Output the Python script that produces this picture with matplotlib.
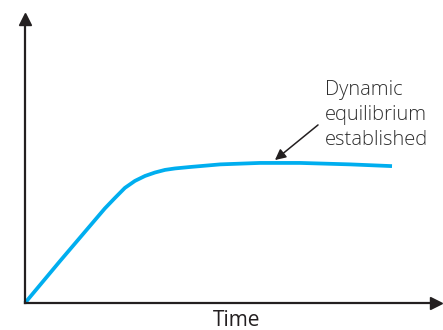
import matplotlib
matplotlib.use("Agg")
import matplotlib.pyplot as plt

# curve (arbitrary units)
time = [0, 0.84, 1.91, 2.15, 2.39, 2.63, 2.87, 3.11, 3.35, 3.59, 3.95, 4.67, 5.62, 6.58, 7.78, 8.78]
value = [0, 0.145, 0.326, 0.362, 0.397, 0.421, 0.438, 0.450, 0.459, 0.464, 0.469, 0.478, 0.483, 0.483, 0.478, 0.472]

label_text = "Dynamic\nequilibrium\nestablished"
arrow_tip = (5.98, 0.493)
arrow_tail = (7.01, 0.614)
text_pos = (7.18, 0.77)

plt.rcParams['font.family'] = ['Open Sans', 'DejaVu Sans']

fig = plt.figure(figsize=(4.43, 3.30), dpi=100)
W, H = 443, 330
ax = fig.add_axes([25 / W, 27 / H, 411 / W, 284 / H])
ax.set_xlim(0, 411 / 41.8)
ax.set_ylim(0, 284 / 290)

ax.plot(time, value, color='#00aeef', lw=2.7, solid_capstyle='butt',
        solid_joinstyle='round', clip_on=False)

axis_col = '#231f20'
for s in ['top', 'right']:
    ax.spines[s].set_visible(False)
for s in ['left', 'bottom']:
    ax.spines[s].set_color(axis_col)
    ax.spines[s].set_linewidth(1.6)
ax.set_xticks([])
ax.set_yticks([])

# arrow heads on the axes
ax.plot(1, 0, marker='>', color=axis_col, ms=8, transform=ax.get_yaxis_transform(), clip_on=False)
ax.plot(0, 1, marker='^', color=axis_col, ms=8, transform=ax.get_xaxis_transform(), clip_on=False)

fig.text(237 / W, 3.5 / H, "Time", fontsize=15, color='#231f20', ha='center', va='baseline')

ax.annotate("", xy=arrow_tip, xytext=arrow_tail,
            arrowprops=dict(arrowstyle='-|>', color=axis_col, lw=1.1, mutation_scale=16, shrinkA=0, shrinkB=0))
ax.text(text_pos[0], text_pos[1], label_text, fontsize=14.5, color='#2e2e2e',
        fontweight='light', va='top', ha='left', linespacing=1.35)

fig.savefig("out.png", dpi=100)
